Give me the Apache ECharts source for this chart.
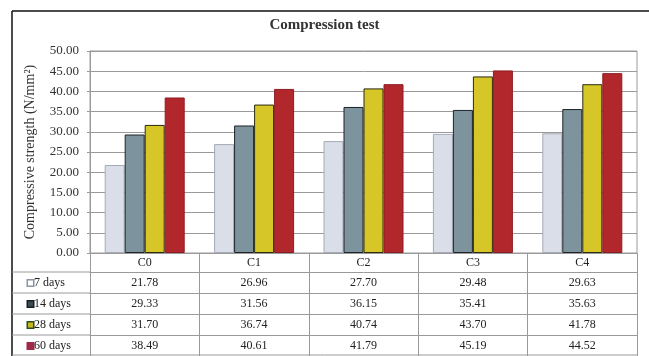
<!DOCTYPE html>
<html>
<head>
<meta charset="utf-8">
<script src="https://cdn.jsdelivr.net/npm/echarts@6/dist/echarts.min.js"></script>
<style>
  html, body { margin: 0; padding: 0; background: #fff; }
  #chart { width: 649px; height: 356px; }
</style>
</head>
<body>
<div id="chart"></div>
<script>
// Mix designations and compressive strength (N/mm²) per curing age
const categories = ['C0', 'C1', 'C2', 'C3', 'C4'];
const seriesNames = ['7 days', '14 days', '28 days', '60 days'];
const days7  = [21.78, 26.96, 27.70, 29.48, 29.63];
const days14 = [29.33, 31.56, 36.15, 35.41, 35.63];
const days28 = [31.70, 36.74, 40.74, 43.70, 41.78];
const days60 = [38.49, 40.61, 41.79, 45.19, 44.52];
const yTicks = { min: 0, max: 50, interval: 5 };

const seriesValues = [days7, days14, days28, days60];

// Look of each series: fill, outline, and the key square in the table
const styles = [
  { fill: '#dadee8', border: '#a4aab6', key: '#ffffff', keyBorder: '#8a94a4' },
  { fill: '#7d939d', border: '#1d2326', key: '#3b4a52', keyBorder: '#1b1f22' },
  { fill: '#d6c628', border: '#2a2a10', key: '#c8b820', keyBorder: '#27501e' },
  { fill: '#b2272c', border: '#8c1d22', key: '#9e2a48', keyBorder: '#9e2a48' }
];

const SERIF = '"Liberation Serif", "Times New Roman", serif';
const GRID = { left: 90, right: 12, top: 51, bottom: 103 };
const LINE = '#9a9a9a';
const HEADER_H = 19;   // row with the category names
const ROW_H = 21;      // each data row of the table
const TABLE_LEFT = 12;
const KEY_LEFT = 28;   // where the row keys start

const chart = echarts.init(document.getElementById('chart'), null, { renderer: 'canvas' });

// The table below the plot is made of extra category axes, one per row
const tableAxes = seriesNames.map((name, i) => ({
  type: 'category',
  gridIndex: 0,
  position: 'bottom',
  offset: HEADER_H + ROW_H * i,
  data: seriesValues[i].map(v => v.toFixed(2)),
  boundaryGap: true,
  axisLine: { show: true, lineStyle: { color: LINE, width: 1 } },
  axisTick: { show: true, interval: 0, length: ROW_H, lineStyle: { color: LINE, width: 1 } },
  axisLabel: { interval: 0, margin: 5, fontFamily: SERIF, fontSize: 12, color: '#222' },
  splitLine: { show: false },
  name: '{sq| }{t|' + name + '}',
  nameLocation: 'start',
  nameGap: GRID.left - KEY_LEFT,
  nameTextStyle: {
    align: 'left',
    verticalAlign: 'top',
    padding: [5, 0, 0, 0],
    rich: {
      sq: { width: 5, height: 5, backgroundColor: styles[i].key, borderColor: styles[i].keyBorder, borderWidth: 1.5 },
      t: { fontFamily: SERIF, fontSize: 12, color: '#222', padding: [0, 0, 0, 1] }
    }
  }
}));

const tableBottom = 356 - 1;
const rowLines = [];
for (let i = 1; i <= seriesNames.length; i++) {
  const y = 356 - GRID.bottom + HEADER_H + ROW_H * (i - 1);
  rowLines.push({ type: 'line', shape: { x1: TABLE_LEFT, y1: y, x2: GRID.left, y2: y }, style: { stroke: LINE, lineWidth: 1 } });
}
rowLines.push({ type: 'line', shape: { x1: TABLE_LEFT, y1: tableBottom, x2: 649 - GRID.right, y2: tableBottom }, style: { stroke: LINE, lineWidth: 1 } });

const option = {
  backgroundColor: '#ffffff',
  animation: false,
  title: {
    text: 'Compression test',
    left: 'center',
    top: 13,
    textStyle: { fontFamily: SERIF, fontSize: 15, fontWeight: 'bold', color: '#333' }
  },
  grid: {
    left: GRID.left, right: GRID.right, top: GRID.top, bottom: GRID.bottom,
    show: true, borderColor: LINE, borderWidth: 1, backgroundColor: '#fff'
  },
  xAxis: [{
    type: 'category',
    gridIndex: 0,
    position: 'bottom',
    data: categories,
    boundaryGap: true,
    axisLine: { show: true, lineStyle: { color: LINE, width: 1 } },
    axisTick: { show: true, interval: 0, length: HEADER_H, lineStyle: { color: LINE, width: 1 } },
    axisLabel: { interval: 0, margin: 4, fontFamily: SERIF, fontSize: 12, color: '#222' },
    splitLine: { show: false }
  }].concat(tableAxes),
  yAxis: {
    type: 'value',
    min: yTicks.min,
    max: yTicks.max,
    interval: yTicks.interval,
    name: 'Compressive strength (N/mm²)',
    nameLocation: 'middle',
    nameGap: 53,
    nameTextStyle: { fontFamily: SERIF, fontSize: 14, color: '#333' },
    axisLine: { show: true, lineStyle: { color: LINE } },
    axisTick: { show: true, length: 3, lineStyle: { color: LINE } },
    axisLabel: {
      margin: 11,
      fontFamily: SERIF, fontSize: 13, color: '#333',
      formatter: v => v.toFixed(2)
    },
    splitLine: { show: true, lineStyle: { color: LINE, width: 1 } }
  },
  series: seriesNames.map((name, i) => ({
    name: name,
    type: 'bar',
    xAxisIndex: 0,
    data: seriesValues[i],
    barWidth: 20,
    barGap: '0%',
    itemStyle: { color: styles[i].fill, borderColor: styles[i].border, borderWidth: 1 }
  })),
  graphic: [
    // outer frame
    { type: 'line', shape: { x1: TABLE_LEFT, y1: 11, x2: 649, y2: 11 }, style: { stroke: '#111', lineWidth: 1.5 } },
    { type: 'line', shape: { x1: TABLE_LEFT, y1: 11, x2: TABLE_LEFT, y2: 356 }, style: { stroke: '#111', lineWidth: 1.5 } }
  ].concat(rowLines)
};

chart.setOption(option);
</script>
</body>
</html>
